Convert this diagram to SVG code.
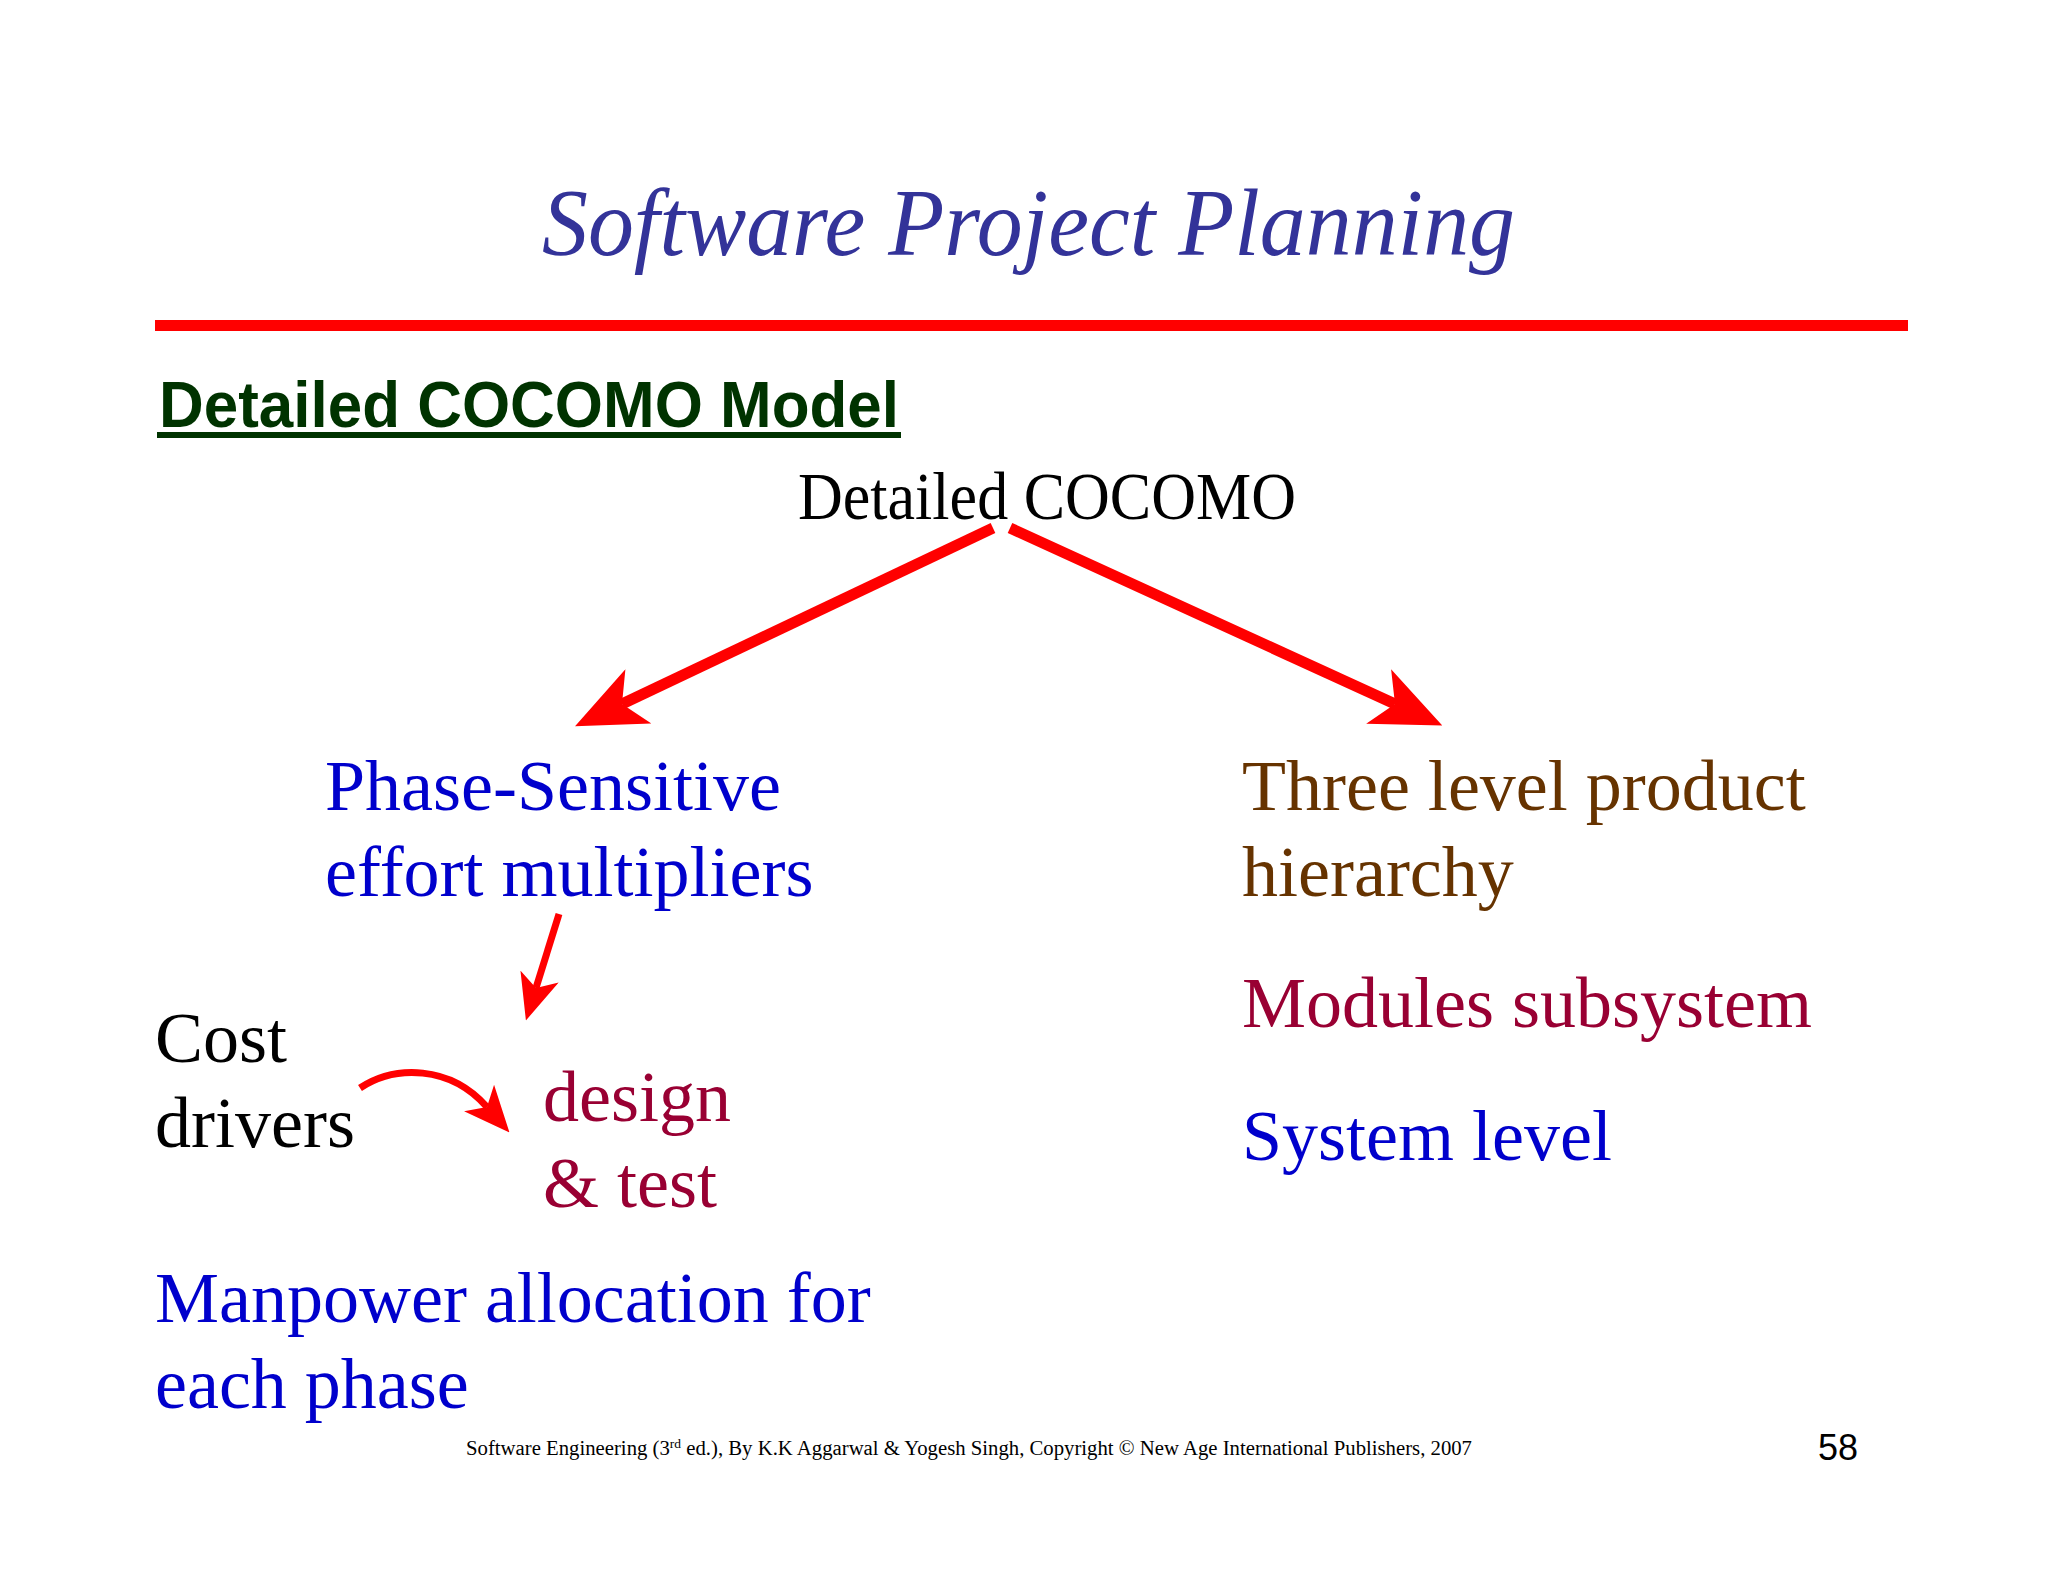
<svg xmlns="http://www.w3.org/2000/svg" width="2048" height="1582" viewBox="0 0 2048 1582">
<defs>
<style>
.serif{font-family:"Liberation Serif","Times New Roman",serif;}
.big{font-size:72px;}
.blue{fill:#0000cc;}
.brown{fill:#663300;}
.crimson{fill:#990033;}
.black{fill:#000000;}
.conn{fill:none;stroke:#ff0000;}
</style>
<marker id="bigHead" viewBox="0 0 70 60" refX="18" refY="30" markerWidth="70" markerHeight="60" markerUnits="userSpaceOnUse" orient="auto">
<path d="M70,30 L0,0 L18,30 L0,60 Z" fill="#ff0000"/>
</marker>
<marker id="smallHead" viewBox="0 0 46 40" refX="12" refY="20" markerWidth="46" markerHeight="40" markerUnits="userSpaceOnUse" orient="auto">
<path d="M46,20 L0,0 L12,20 L0,40 Z" fill="#ff0000"/>
</marker>
</defs>
<rect width="2048" height="1582" fill="#ffffff"/>
<g id="title">
<text x="542" y="255" class="serif" font-style="italic" font-size="96" fill="#333399" textLength="973" lengthAdjust="spacingAndGlyphs">Software Project Planning</text>
<rect x="155" y="320" width="1753" height="11" fill="#ff0000"/>
</g>
<g id="heading">
<text x="159" y="427" font-family="'Liberation Sans',Arial,sans-serif" font-weight="bold" font-size="64" fill="#003300" textLength="740" lengthAdjust="spacingAndGlyphs">Detailed COCOMO Model</text>
<rect x="157" y="432" width="744" height="6" fill="#003300"/>
</g>
<g id="root">
<text x="798" y="519" class="serif black" font-size="68" textLength="498" lengthAdjust="spacingAndGlyphs">Detailed COCOMO</text>
</g>
<g id="phase-sensitive">
<text x="325" y="810" class="serif big blue">Phase-Sensitive</text>
<text x="325" y="896" class="serif big blue">effort multipliers</text>
</g>
<g id="three-level">
<text x="1242" y="810" class="serif big brown">Three level product</text>
<text x="1242" y="896" class="serif big brown">hierarchy</text>
</g>
<g id="modules">
<text x="1242" y="1027" class="serif big crimson">Modules subsystem</text>
</g>
<g id="system">
<text x="1242" y="1160" class="serif big blue">System level</text>
</g>
<g id="cost-drivers">
<text x="155" y="1062" class="serif big black">Cost</text>
<text x="155" y="1147" class="serif big black">drivers</text>
</g>
<g id="design-test">
<text x="543" y="1121" class="serif big crimson">design</text>
<text x="543" y="1207" class="serif big crimson">&amp; test</text>
</g>
<g id="manpower">
<text x="155" y="1322" class="serif big blue">Manpower allocation for</text>
<text x="155" y="1408" class="serif big blue">each phase</text>
</g>
<g id="footer">
<text x="466" y="1455" class="serif black" font-size="20" textLength="1006" lengthAdjust="spacingAndGlyphs">Software Engineering (3<tspan font-size="13" dy="-7">rd</tspan><tspan dy="7"> ed.), By K.K Aggarwal &amp; Yogesh Singh, Copyright © New Age International Publishers, 2007</tspan></text>
<text x="1818" y="1460" font-family="'Liberation Sans',Arial,sans-serif" font-size="36" fill="#000000">58</text>
</g>
<g id="connectors">
<line class="conn" x1="993" y1="528" x2="622" y2="704" stroke-width="11" marker-end="url(#bigHead)"/>
<line class="conn" x1="1010" y1="528" x2="1395" y2="704" stroke-width="11" marker-end="url(#bigHead)"/>
<line class="conn" x1="559" y1="914" x2="536" y2="988" stroke-width="7" marker-end="url(#smallHead)"/>
<path class="conn" d="M360,1088 C395,1065 450,1065 487,1107" stroke-width="7" marker-end="url(#smallHead)"/>
</g>
</svg>
